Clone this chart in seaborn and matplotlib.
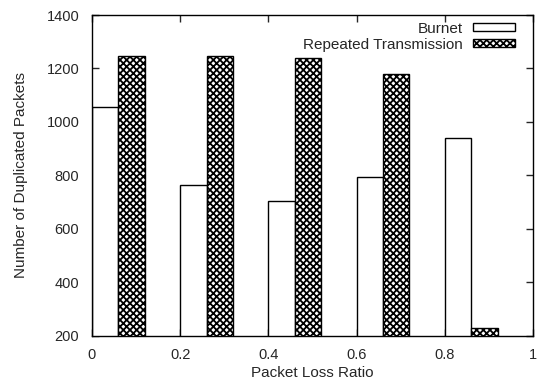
import pandas as pd
import matplotlib
matplotlib.use("Agg")
import matplotlib.pyplot as plt
import seaborn as sns

loss_ratio = [0.0, 0.2, 0.4, 0.6, 0.8]
burnet = [1055, 765, 705, 795, 938]
repeated = [1245, 1245, 1238, 1178, 228]

sns.set_style("ticks")
plt.rcParams['font.family'] = ['Liberation Sans', 'DejaVu Sans']
plt.rcParams['font.size'] = 11
plt.rcParams['hatch.linewidth'] = 1.3

HATCH = "xxxxx"

df_b = pd.DataFrame({"pos": [r + 0.03 for r in loss_ratio], "val": burnet})
df_r = pd.DataFrame({"pos": [r + 0.09 for r in loss_ratio], "val": repeated})

fig = plt.figure(figsize=(5.37, 3.82), dpi=100)
ax = fig.add_axes([0.171, 0.1217, 0.8216, 0.839])

sns.barplot(data=df_b, x="pos", y="val", native_scale=True, width=0.3,
            color="white", edgecolor="black", linewidth=1.0, ax=ax,
            label="Burnet", errorbar=None)
n_b = len(ax.patches)
sns.barplot(data=df_r, x="pos", y="val", native_scale=True, width=0.3,
            color="white", edgecolor="black", linewidth=1.0, ax=ax,
            label="Repeated Transmission", errorbar=None)
for p in ax.patches[n_b:]:
    p.set_hatch(HATCH)

ax.set_xlim(0, 1)
ax.set_ylim(200, 1400)
ax.set_xticks([0, 0.2, 0.4, 0.6, 0.8, 1])
ax.set_xticklabels(["0", "0.2", "0.4", "0.6", "0.8", "1"])
ax.set_yticks(range(200, 1401, 200))
ax.tick_params(direction="in", top=True, right=True, length=5, width=1,
               labelsize=10.5)
ax.tick_params(axis="x", pad=9)
ax.tick_params(axis="y", pad=9)
for s in ax.spines.values():
    s.set_visible(True)
    s.set_linewidth(1.0)
    s.set_color("black")
ax.set_xlabel("Packet Loss Ratio", labelpad=3)
ax.set_ylabel("Number of Duplicated Packets", labelpad=13)

leg = ax.legend(loc="upper right", bbox_to_anchor=(0.959, 0.979),
                frameon=False, markerfirst=False, borderpad=0,
                borderaxespad=0, handlelength=2.75, handleheight=0.45,
                labelspacing=0.12, handletextpad=0.65)
for h in leg.legend_handles[1:]:
    h.set_hatch(HATCH)

fig.savefig("out.png", dpi=100)
